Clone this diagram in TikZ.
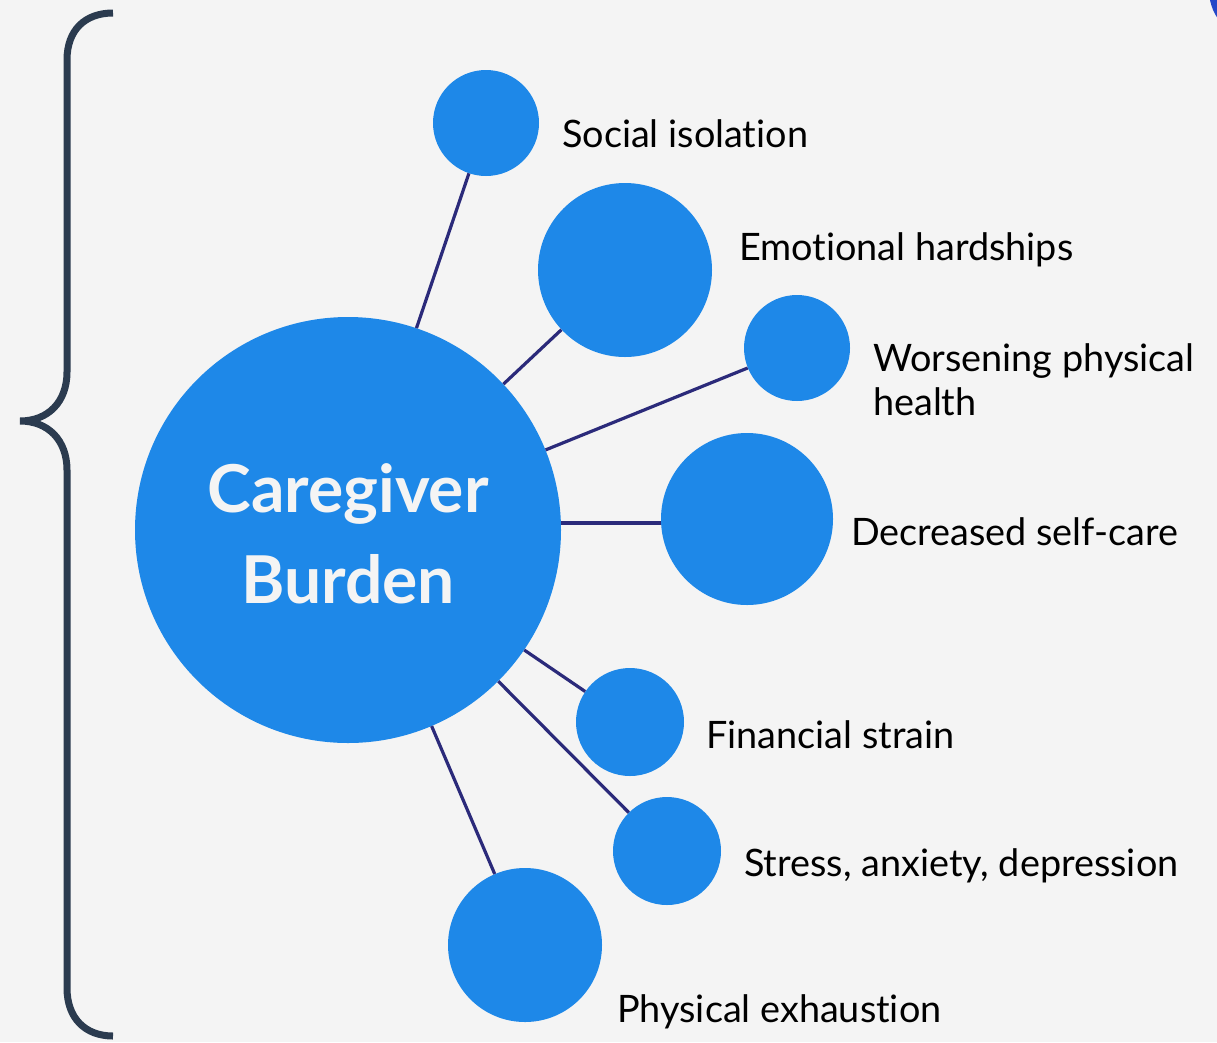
\documentclass[tikz,border=0pt]{standalone}
\usepackage{fontspec}
\setmainfont{Lato}[Ligatures={NoCommon}]
\definecolor{bg}{HTML}{F4F4F4}
\definecolor{cblue}{HTML}{1E88E8}
\definecolor{navy}{HTML}{2B2A7A}
\definecolor{bracec}{HTML}{2B3B4F}
\definecolor{cornerblue}{HTML}{2448C8}
\tikzset{
  bub/.style={circle, fill=cblue, inner sep=0pt, minimum size=#1},
  link/.style={draw=navy, line width=3.2pt},
  lab/.style={anchor=base west, inner sep=0pt, text=black, align=left,
    font=\fontsize{37.8}{44}\selectfont},
  ctext/.style={anchor=base, inner sep=0pt, text=bg, font=\fontsize{66}{80}\selectfont\bfseries},
}
\begin{document}
\begin{tikzpicture}[x=1pt,y=-1pt]
\useasboundingbox (0,0) rectangle (1217,1042);
\fill[bg] (0,0) rectangle (1217,1042);
\begin{scope}
\clip (0,0) rectangle (1217,1042);
\fill[cornerblue] (1260,-10) circle (51);
\end{scope}
% brace
\draw[bracec, line width=7pt]
  (113,13) .. controls (85,13) and (67,30) .. (67,60)
  -- (67,372) .. controls (67,402) and (48,421) .. (20,421)
  .. controls (48,421) and (67,440) .. (67,470)
  -- (67,988) .. controls (67,1018) and (85,1036) .. (113,1036);
% bubbles
\node[bub=426pt] (c) at (348,530) {};
\node[bub=106pt] (s1) at (486,123) {};
\node[bub=174pt] (s2) at (625,270) {};
\node[bub=106pt] (s3) at (797,348) {};
\node[bub=172pt] (s4) at (747,519) {};
\node[bub=108pt] (s5) at (630,722) {};
\node[bub=108pt] (s6) at (667,851) {};
\node[bub=154pt] (s7) at (525,945) {};
% connectors
\draw[link] (c) -- (s1);
\draw[link] (c) -- (s2);
\draw[link] (c) -- (s3);
\draw[link] (c.east |- 0,523) coordinate (ce) -- (s4.west |- ce);
\draw[link] (c) -- (s5);
\draw[link] (c) -- (s6);
\draw[link] (c) -- (s7);
% center text
\node[ctext] (t1) at (348,512) {Caregiver};
\node[ctext] (t2) at (348,603) {Burden};
% labels
\node[lab] (l1) at (562,147) {Social isolation};
\node[lab] (l2) at (739,260) {Emotional hardships};
\node[lab] (l3) at (873,415) {Worsening physical\\health};
\node[lab] (l4) at (851,545) {Decreased self-care};
\node[lab] (l5) at (706,748) {Financial strain};
\node[lab] (l6) at (744,876) {Stress, anxiety, depression};
\node[lab] (l7) at (617,1022) {Physical exhaustion};
\end{tikzpicture}
\end{document}
